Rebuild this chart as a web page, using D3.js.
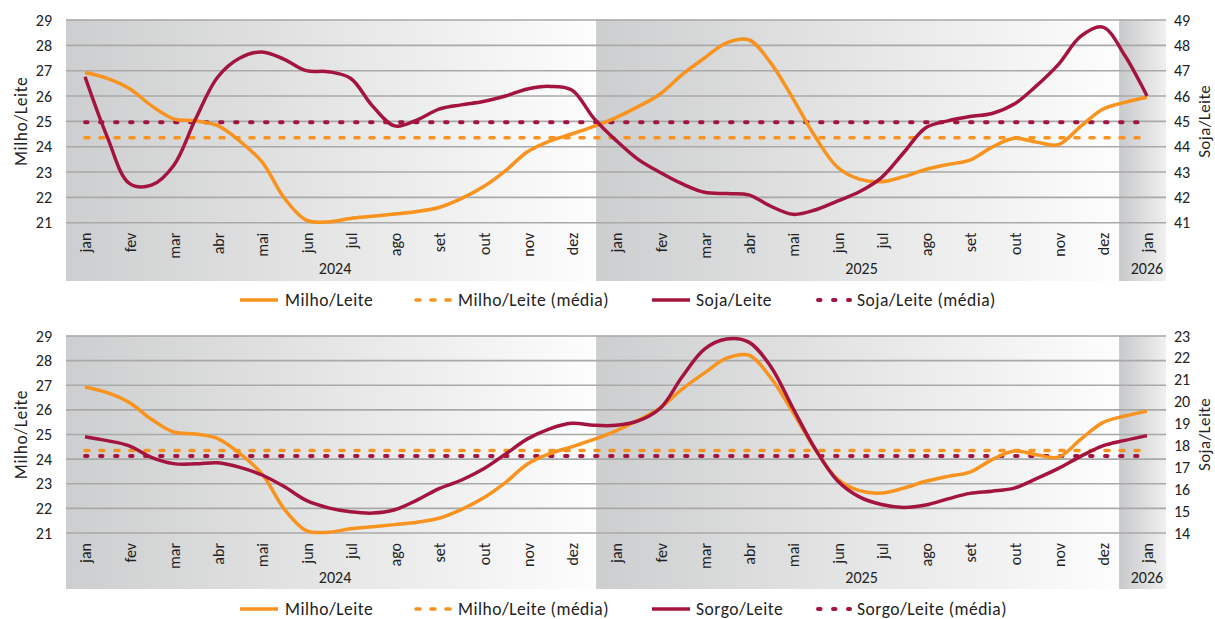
<!DOCTYPE html>
<html><head><meta charset="utf-8">
<script src="https://cdn.jsdelivr.net/npm/d3@7"></script>
<style>
html,body{margin:0;padding:0;background:#fff;}
text{font-family:Carlito,Lato,"Liberation Sans",sans-serif;fill:#222;}
</style></head>
<body><svg id="c" width="1215" height="619"></svg>
<script>
// ---------- DATA ----------
const dates = ["2024-01-01","2024-01-16","2024-02-01","2024-02-16","2024-03-01","2024-03-16","2024-04-01","2024-04-16",
"2024-05-01","2024-05-16","2024-06-01","2024-06-16","2024-07-01","2024-07-16","2024-08-01","2024-08-16",
"2024-09-01","2024-09-16","2024-10-01","2024-10-16","2024-11-01","2024-11-16","2024-12-01","2024-12-16",
"2025-01-01","2025-01-16","2025-02-01","2025-02-16","2025-03-01","2025-03-16","2025-04-01","2025-04-16",
"2025-05-01","2025-05-16","2025-06-01","2025-06-16","2025-07-01","2025-07-16","2025-08-01","2025-08-16",
"2025-09-01","2025-09-16","2025-10-01","2025-10-16","2025-11-01","2025-11-16","2025-12-01","2025-12-16",
"2026-01-01"];
const milhoLeite = [26.93,26.70,26.30,25.62,25.10,25.02,24.83,24.22,23.40,21.98,21.10,21.03,21.17,21.25,21.34,21.44,
21.60,21.95,22.42,23.05,23.80,24.22,24.50,24.80,25.15,25.58,26.08,26.85,27.50,28.10,28.22,27.30,
25.90,24.40,23.20,22.72,22.62,22.82,23.10,23.30,23.47,23.98,24.33,24.18,24.08,24.80,25.48,25.75,25.95];
const sojaLeite = [46.76,44.40,42.55,42.48,43.25,45.10,46.75,47.50,47.74,47.45,47.00,46.96,46.70,45.60,44.82,45.05,
45.48,45.65,45.78,46.00,46.28,46.38,46.24,45.12,44.25,43.50,42.98,42.53,42.20,42.15,42.10,41.65,
41.33,41.50,41.85,42.22,42.78,43.76,44.75,45.02,45.19,45.31,45.68,46.40,47.25,48.35,48.72,47.60,46.00];
const sorgoLeite = [18.40,18.22,17.98,17.46,17.17,17.16,17.21,17.00,16.65,16.12,15.49,15.15,14.97,14.91,15.06,15.50,
16.03,16.41,16.92,17.60,18.30,18.76,19.01,18.92,18.92,19.12,19.70,21.15,22.40,22.86,22.72,21.60,
19.70,17.85,16.40,15.65,15.30,15.17,15.28,15.56,15.81,15.91,16.05,16.48,16.95,17.50,17.98,18.23,18.45];
const milhoLeiteMedia = 24.35;
const sojaLeiteMedia = 44.96;
const sorgoLeiteMedia = 17.52;
const monthLabels = ["jan","fev","mar","abr","mai","jun","jul","ago","set","out","nov","dez",
"jan","fev","mar","abr","mai","jun","jul","ago","set","out","nov","dez","jan"];
const years = ["2024","2025","2026"];
const yearStartMonth = [-0.43, 11.55, 23.37];
const yearEndMonth = [11.55, 23.37, 24.43];
const leftTicks = [21,22,23,24,25,26,27,28,29];
const sojaTicks = [41,42,43,44,45,46,47,48,49];
const sorgoTicks = [14,15,16,17,18,19,20,21,22,23];

// ---------- HELPERS ----------
const ORANGE = "#f7931e", RED = "#a3153f";
const mIdx = s => { const [y,m,d] = s.split("-").map(Number); return (y-2024)*12 + (m-1) + (d-1)/30; };
const tIdx = dates.map(mIdx);
const svg = d3.select("#c");
const defs = svg.append("defs");
function grad(id, c1, c2){
  const g = defs.append("linearGradient").attr("id", id).attr("x1","0").attr("x2","1").attr("y1","0").attr("y2","0");
  g.append("stop").attr("offset","0").attr("stop-color",c1);
  g.append("stop").attr("offset","1").attr("stop-color",c2);
}
grad("gYear","#cdcecf","#fdfdfd");
grad("gLast","#c8c9cb","#f0f0f0");

const x = d3.scaleLinear().domain([-0.43, 24.43]).range([66, 1166]);

function panel(cfg){
  const g = svg.append("g");
  const yL = d3.scaleLinear().domain([21,29]).range([cfg.y0, cfg.y1]);
  const yR = d3.scaleLinear().domain(cfg.rDomain).range([cfg.y0, cfg.y1]);
  years.forEach((yr,i)=>{
    g.append("rect").attr("x", x(yearStartMonth[i])).attr("width", x(yearEndMonth[i]) - x(yearStartMonth[i]))
     .attr("y", cfg.y1 - 0.5).attr("height", cfg.bgBottom - cfg.y1 + 0.5)
     .attr("fill", i < 2 ? "url(#gYear)" : "url(#gLast)");
  });
  g.selectAll(".grid").data(leftTicks).join("line")
    .attr("x1", x.range()[0]).attr("x2", x.range()[1])
    .attr("y1", d=>yL(d)).attr("y2", d=>yL(d))
    .attr("stroke","#a9a9a9").attr("stroke-width",1.6);
  g.selectAll(".lt").data(leftTicks).join("text")
    .attr("x", 52).attr("y", d=>yL(d)).attr("dy","0.35em").attr("text-anchor","end")
    .attr("font-size",16).text(d=>d);
  g.selectAll(".rt").data(cfg.rTicks).join("text")
    .attr("x", 1174).attr("y", d=>yR(d)).attr("dy","0.35em").attr("text-anchor","start")
    .attr("font-size",16).text(d=>d);
  g.append("text").attr("transform",`translate(21,${(cfg.y0+cfg.y1)/2}) rotate(-90)`)
    .attr("text-anchor","middle").attr("dy","0.35em").attr("font-size",17.5).attr("letter-spacing",0.6).text("Milho/Leite");
  g.append("text").attr("transform",`translate(1204,${(cfg.y0+cfg.y1)/2}) rotate(-90)`)
    .attr("text-anchor","middle").attr("dy","0.35em").attr("font-size",17).attr("letter-spacing",0.4).text("Soja/Leite");
  g.selectAll(".ml").data(monthLabels).join("text")
    .attr("transform",(d,i)=>`translate(${x(i)+1},${cfg.y0+10}) rotate(-90)`)
    .attr("text-anchor","end").attr("dy","0.33em").attr("font-size",16).text(d=>d);
  g.selectAll(".yl").data(years).join("text")
    .attr("x",(d,i)=> i<2 ? (x(yearStartMonth[i])+x(yearEndMonth[i]))/2 + 4 : x(24))
    .attr("y", cfg.yearY).attr("dy","0.35em").attr("text-anchor","middle").attr("font-size",16).text(d=>d);
  const x0 = x(tIdx[0]), x1 = x(tIdx[tIdx.length-1]);
  g.append("line").attr("x1",x0).attr("x2",x1).attr("y1",yL(milhoLeiteMedia)).attr("y2",yL(milhoLeiteMedia))
    .attr("stroke",ORANGE).attr("stroke-width",3.6).attr("stroke-dasharray","4 11").attr("stroke-linecap","round");
  g.append("line").attr("x1",x0).attr("x2",x1).attr("y1",yR(cfg.rMedia)).attr("y2",yR(cfg.rMedia))
    .attr("stroke",RED).attr("stroke-width",4).attr("stroke-dasharray","2.5 12.5").attr("stroke-linecap","round");
  const lineL = d3.line().x((d,i)=>x(tIdx[i])).y(d=>yL(d)).curve(d3.curveCatmullRom.alpha(0.5));
  const lineR = d3.line().x((d,i)=>x(tIdx[i])).y(d=>yR(d)).curve(d3.curveCatmullRom.alpha(0.5));
  g.append("path").attr("d", lineL(milhoLeite)).attr("fill","none").attr("stroke",ORANGE).attr("stroke-width",3.5);
  g.append("path").attr("d", lineR(cfg.rSeries)).attr("fill","none").attr("stroke",RED).attr("stroke-width",3.5);
  const ly = cfg.legendY;
  const lg = g.append("g").attr("font-size",17.5).attr("letter-spacing",0.5);
  lg.append("line").attr("x1",240).attr("x2",278).attr("y1",ly).attr("y2",ly).attr("stroke",ORANGE).attr("stroke-width",3.5);
  lg.append("text").attr("x",285).attr("y",ly).attr("dy","0.35em").text("Milho/Leite");
  lg.append("line").attr("x1",416).attr("x2",450).attr("y1",ly).attr("y2",ly).attr("stroke",ORANGE)
    .attr("stroke-width",3.6).attr("stroke-dasharray","4 11").attr("stroke-linecap","round");
  lg.append("text").attr("x",458).attr("y",ly).attr("dy","0.35em").text("Milho/Leite (média)");
  lg.append("line").attr("x1",652).attr("x2",690).attr("y1",ly).attr("y2",ly).attr("stroke",RED).attr("stroke-width",3.5);
  lg.append("text").attr("x",696).attr("y",ly).attr("dy","0.35em").text(cfg.rName);
  lg.append("line").attr("x1",818).attr("x2",850).attr("y1",ly).attr("y2",ly).attr("stroke",RED)
    .attr("stroke-width",4).attr("stroke-dasharray","2.5 12.5").attr("stroke-linecap","round");
  lg.append("text").attr("x",857).attr("y",ly).attr("dy","0.35em").text(cfg.rName + " (média)");
}

panel({y0:222.7, y1:20, bgBottom:281, rDomain:[41,49], rTicks:sojaTicks, rSeries:sojaLeite, rMedia:sojaLeiteMedia,
       rName:"Soja/Leite", yearY:268, legendY:300});
panel({y0:533, y1:336, bgBottom:589, rDomain:[14,23], rTicks:sorgoTicks, rSeries:sorgoLeite, rMedia:sorgoLeiteMedia,
       rName:"Sorgo/Leite", yearY:577.5, legendY:609});
</script></body></html>
